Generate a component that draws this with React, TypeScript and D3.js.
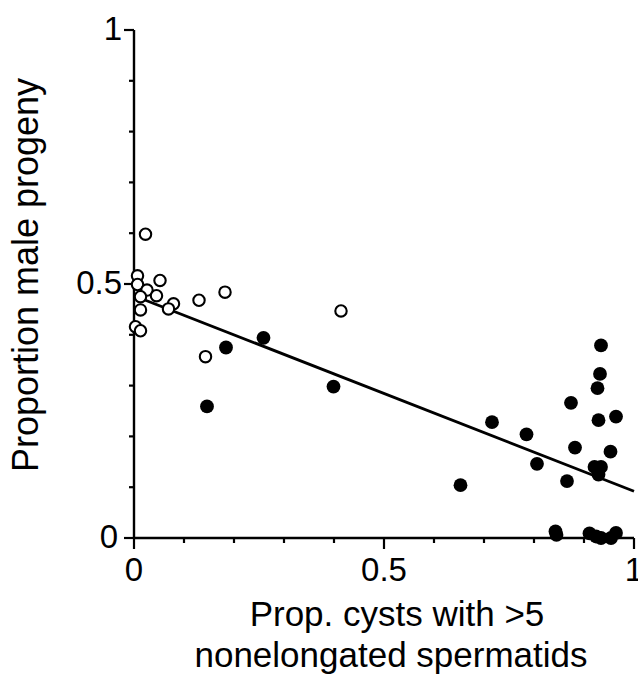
import React from "react";
import * as d3 from "d3";

const openX = [0.023, 0.007, 0.007, 0.052, 0.026, 0.013, 0.045, 0.079, 0.069, 0.013, 0.13, 0.182, 0.003, 0.013, 0.414, 0.143];
const openY = [0.598, 0.516, 0.499, 0.507, 0.488, 0.475, 0.477, 0.461, 0.451, 0.449, 0.468, 0.484, 0.416, 0.408, 0.447, 0.357];

const filledX = [0.184, 0.259, 0.146, 0.399, 0.934, 0.932, 0.927, 0.874, 0.929, 0.964, 0.716, 0.785, 0.882, 0.953, 0.806, 0.921, 0.934, 0.929, 0.866, 0.653, 0.843, 0.845, 0.911, 0.924, 0.934, 0.954, 0.964];
const filledY = [0.375, 0.394, 0.259, 0.298, 0.379, 0.323, 0.295, 0.266, 0.232, 0.239, 0.228, 0.204, 0.178, 0.170, 0.146, 0.140, 0.140, 0.125, 0.112, 0.104, 0.013, 0.006, 0.009, 0.003, 0.0, 0.0, 0.01];

const fitX = [0, 1];
const fitY = [0.477, 0.092];

const tickValues = d3.range(0, 1.0001, 0.1);
const majorTicks = [0, 0.5, 1];
const tickLabels = ["0", "0.5", "1"];

const xTitle = ["Prop. cysts with >5", "nonelongated spermatids"];
const yTitle = "Proportion male progeny";

export default function App() {
  const x = d3.scaleLinear().domain([0, 1]).range([134, 634]);
  const y = d3.scaleLinear().domain([0, 1]).range([538, 30]);
  const font = "'Liberation Sans', Arial, Helvetica, sans-serif";
  const isMajor = (v: number) => majorTicks.some((m) => Math.abs(m - v) < 1e-6);
  const line = d3
    .line<number>()
    .x((_, i) => x(fitX[i]))
    .y((d) => y(d));

  return (
    <svg
      width={638}
      height={681}
      style={{ position: "absolute", left: 0, top: 0, background: "#fff" }}
      fontFamily={font}
    >
      {/* axes */}
      <line x1={x(0)} x2={x(0)} y1={y(1)} y2={y(0)} stroke="#000" strokeWidth={2.4} />
      <line x1={x(0)} x2={x(1)} y1={y(0)} y2={y(0)} stroke="#000" strokeWidth={2.4} />
      {tickValues.map((v, i) => (
        <line
          key={"yt" + i}
          x1={x(0) - (isMajor(v) ? 10 : 5)}
          x2={x(0)}
          y1={y(v)}
          y2={y(v)}
          stroke="#000"
          strokeWidth={2.2}
        />
      ))}
      {tickValues.map((v, i) => (
        <line
          key={"xt" + i}
          x1={x(v)}
          x2={x(v)}
          y1={y(0)}
          y2={y(0) + (isMajor(v) ? 11 : 5)}
          stroke="#000"
          strokeWidth={2.2}
        />
      ))}
      {majorTicks.map((v, i) => (
        <text
          key={"yl" + i}
          x={x(0) - (v === 0 ? 16 : 12)}
          y={y(v) + 10}
          textAnchor="end"
          fontSize={33}
        >
          {tickLabels[i]}
        </text>
      ))}
      {majorTicks.map((v, i) => (
        <text key={"xl" + i} x={x(v)} y={581} textAnchor="middle" fontSize={33}>
          {tickLabels[i]}
        </text>
      ))}
      {/* titles */}
      <text x={397} y={626} textAnchor="middle" fontSize={35}>
        {xTitle[0]}
      </text>
      <text x={391} y={667} textAnchor="middle" fontSize={35}>
        {xTitle[1]}
      </text>
      <text
        transform={`translate(38,${275}) rotate(-90)`}
        textAnchor="middle"
        fontSize={36}
      >
        {yTitle}
      </text>
      {/* regression line */}
      <path d={line(fitY) || ""} fill="none" stroke="#000" strokeWidth={2.8} />
      {/* points */}
      {filledX.map((v, i) => (
        <circle key={"f" + i} cx={x(v)} cy={y(filledY[i])} r={6.9} fill="#000" />
      ))}
      {openX.map((v, i) => (
        <circle
          key={"o" + i}
          cx={x(v)}
          cy={y(openY[i])}
          r={5.7}
          fill="#fff"
          stroke="#000"
          strokeWidth={2.1}
        />
      ))}
    </svg>
  );
}
